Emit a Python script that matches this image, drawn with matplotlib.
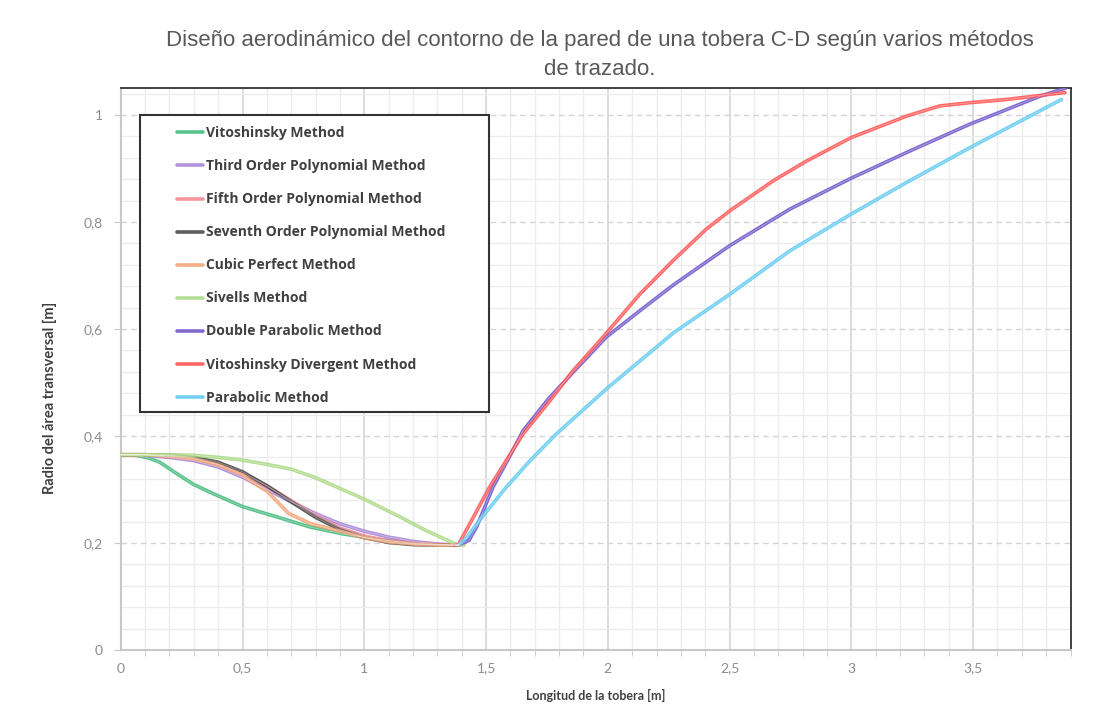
import matplotlib.pyplot as plt
from matplotlib.patches import Rectangle
from matplotlib.ticker import MultipleLocator, FuncFormatter

# Convergent section (inlet to throat)
vitoX = [0, 0.06, 0.114, 0.16, 0.229, 0.297, 0.366, 0.5, 0.639, 0.776, 0.913, 1.05, 1.19, 1.3, 1.385]
vitoY = [0.365, 0.364, 0.359, 0.351, 0.330, 0.310, 0.295, 0.268, 0.249, 0.230, 0.217, 0.207, 0.200, 0.197, 0.196]

polyX = [0, 0.1, 0.2, 0.3, 0.4, 0.5, 0.6, 0.7, 0.8, 0.9, 1.0, 1.1, 1.2, 1.3, 1.385]
thirdY = [0.365, 0.364, 0.360, 0.354, 0.342, 0.323, 0.300, 0.277, 0.255, 0.236, 0.222, 0.211, 0.203, 0.198, 0.196]
fifthY = [0.365, 0.365, 0.363, 0.358, 0.347, 0.330, 0.307, 0.279, 0.251, 0.228, 0.213, 0.204, 0.199, 0.197, 0.196]
seventhY = [0.365, 0.365, 0.364, 0.360, 0.351, 0.333, 0.307, 0.277, 0.248, 0.225, 0.210, 0.201, 0.197, 0.196, 0.196]

cubicX = [0, 0.1, 0.2, 0.3, 0.4, 0.5, 0.56, 0.6, 0.69, 0.78, 0.9, 1.0, 1.1, 1.2, 1.3, 1.385]
cubicY = [0.365, 0.365, 0.362, 0.357, 0.346, 0.327, 0.308, 0.297, 0.255, 0.236, 0.222, 0.210, 0.202, 0.198, 0.196, 0.196]

sivellsX = [0, 0.1, 0.2, 0.3, 0.4, 0.5, 0.6, 0.7, 0.8, 0.9, 1.0, 1.146, 1.25, 1.385, 1.41]
sivellsY = [0.365, 0.365, 0.365, 0.364, 0.360, 0.355, 0.347, 0.338, 0.322, 0.302, 0.282, 0.249, 0.224, 0.196, 0.196]

# Divergent section (throat to exit)
dblParX = [1.385, 1.43, 1.461, 1.529, 1.59, 1.652, 1.757, 1.857, 1.994, 2.131, 2.268, 2.501, 2.747, 3.0, 3.227, 3.487, 3.774, 3.883]
dblParY = [0.196, 0.205, 0.230, 0.305, 0.356, 0.410, 0.470, 0.519, 0.585, 0.634, 0.682, 0.756, 0.824, 0.882, 0.930, 0.983, 1.035, 1.051]

vitoDivX = [1.37, 1.385, 1.45, 1.515, 1.652, 1.757, 1.857, 1.967, 2.131, 2.268, 2.405, 2.501, 2.679, 2.816, 3.0, 3.227, 3.363, 3.487, 3.637, 3.877]
vitoDivY = [0.196, 0.196, 0.250, 0.305, 0.404, 0.463, 0.522, 0.578, 0.665, 0.728, 0.787, 0.821, 0.877, 0.914, 0.958, 0.998, 1.017, 1.023, 1.029, 1.042]

parX = [1.385, 1.42, 1.474, 1.584, 1.685, 1.789, 1.994, 2.27, 2.501, 2.747, 3.0, 3.227, 3.487, 3.863]
parY = [0.196, 0.210, 0.243, 0.305, 0.356, 0.404, 0.488, 0.593, 0.665, 0.746, 0.815, 0.874, 0.939, 1.029]

series = [
	("Vitoshinsky Method", vitoX, vitoY, '#3cb878'),
	("Third Order Polynomial Method", polyX, thirdY, '#a57fd6'),
	("Fifth Order Polynomial Method", polyX, fifthY, '#f4848c'),
	("Seventh Order Polynomial Method", polyX, seventhY, '#404040'),
	("Cubic Perfect Method", cubicX, cubicY, '#f0a070'),
	("Sivells Method", sivellsX, sivellsY, '#a8d880'),
	("Double Parabolic Method", dblParX, dblParY, '#6a50c8'),
	("Vitoshinsky Divergent Method", vitoDivX, vitoDivY, '#ff4d4d'),
	("Parabolic Method", parX, parY, '#5bc8f0'),
]

def commaFmt(v, pos):
	s = ('%g' % round(v, 2))
	return s.replace('.', ',')

def main():
	fig = plt.figure(figsize=(10.98, 7.06), dpi=100)
	ax = fig.add_axes([0.110, 0.0793, 0.865, 0.7957])

	for name, xs, ys, col in series:
		ax.plot(xs, ys, color=col, lw=2.6, alpha=0.85, label=name, zorder=3,
			solid_joinstyle='round', solid_capstyle='round')
		# light core gives the double-stroke look
		ax.plot(xs, ys, color='white', lw=0.6, alpha=0.35, zorder=3.1,
			solid_joinstyle='round')

	ax.set_xlim(0, 3.9)
	ax.set_ylim(0, 1.05)
	ax.xaxis.set_major_locator(MultipleLocator(0.5))
	ax.xaxis.set_minor_locator(MultipleLocator(0.1))
	ax.yaxis.set_major_locator(MultipleLocator(0.2))
	ax.yaxis.set_minor_locator(MultipleLocator(0.04))
	ax.xaxis.set_major_formatter(FuncFormatter(commaFmt))
	ax.yaxis.set_major_formatter(FuncFormatter(commaFmt))

	# grid
	ax.grid(which='minor', color='#ececec', lw=1.0, zorder=0)
	ax.grid(which='major', axis='x', color='#d9d9d9', lw=1.3, zorder=0)
	ax.grid(which='major', axis='y', color='#d4d4d4', lw=1.0, ls=(0, (4, 3)), zorder=0)
	ax.set_axisbelow(True)

	for side in ['top', 'right']:
		ax.spines[side].set_linestyle((0, (1, 1)))
		ax.spines[side].set_color('#222222')
		ax.spines[side].set_linewidth(1.2)
	for side in ['left', 'bottom']:
		ax.spines[side].set_color('#c8c8c8')
		ax.spines[side].set_linewidth(1.5)

	ax.tick_params(which='major', axis='x', length=0, pad=9, labelsize=10, labelcolor='#8c8c8c')
	ax.tick_params(which='minor', axis='x', length=4, color='#c8c8c8')
	ax.tick_params(which='major', axis='y', length=5, color='#c8c8c8', pad=8, labelsize=10, labelcolor='#8c8c8c')
	ax.tick_params(which='minor', axis='y', length=0)
	for lbl in ax.get_xticklabels() + ax.get_yticklabels():
		lbl.set_fontfamily(['Lato', 'DejaVu Sans'])

	ax.set_xlabel('Longitud de la tobera [m]', fontsize=9, fontweight='bold',
		color='#404040', family=['Lato', 'DejaVu Sans'])
	ax.set_ylabel('Radio del área transversal [m]', fontsize=10.5, fontweight='bold',
		color='#404040', family=['Lato', 'DejaVu Sans'])
	ax.xaxis.set_label_coords(0.5, -0.069)
	ax.yaxis.set_label_coords(-0.067, 0.448)

	fig.text(0.546, 0.922, 'Diseño aerodinámico del contorno de la pared de una tobera C-D según varios métodos\nde trazado.',
		ha='center', va='center', fontsize=16, color='#595959', linespacing=1.45,
		family=['Liberation Sans', 'DejaVu Sans'])

	# legend box
	ax.add_patch(Rectangle((0.02, 0.424), 0.368, 0.528, transform=ax.transAxes,
		facecolor='white', edgecolor='#333333', lw=1.5, zorder=4))
	leg = ax.legend(loc='upper left', bbox_to_anchor=(0.047, 0.952), frameon=False,
		handlelength=1.9, handletextpad=0.25, labelspacing=1.37, borderpad=0.3,
		prop={'family': ['Open Sans', 'DejaVu Sans'], 'weight': 'bold', 'size': 10})
	leg.set_zorder(5)
	for txt in leg.get_texts():
		txt.set_color('#404040')

	fig.savefig('out.png', dpi=100)

if __name__ == '__main__':
	main()
